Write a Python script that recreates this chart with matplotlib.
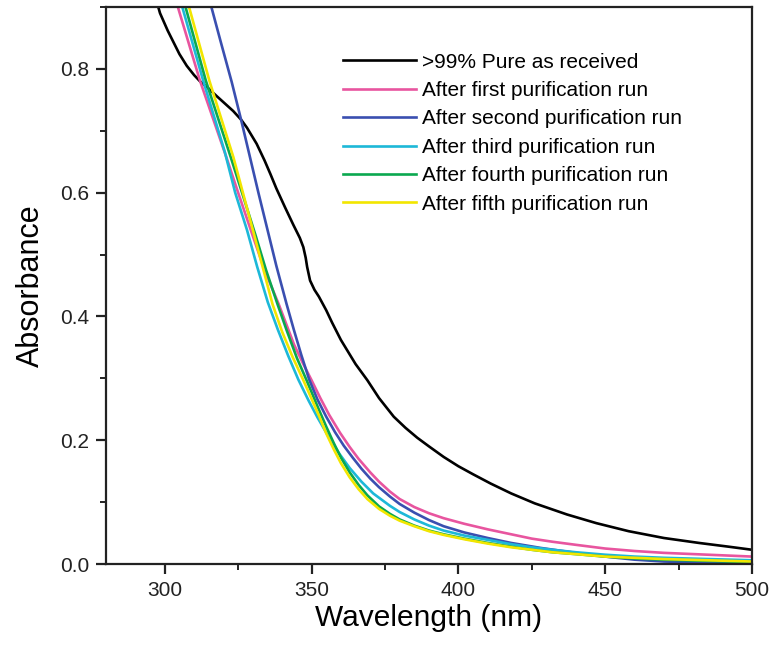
import numpy as np
import matplotlib.pyplot as plt
from matplotlib.ticker import MultipleLocator

plt.rcParams['font.family'] = ['Liberation Sans', 'DejaVu Sans']

# Absorption spectra (wavelength in nm, absorbance)
wl_raw = [296, 298.4, 301, 303, 305, 307.5, 310, 312, 315, 317.7, 320.5, 323.3, 326, 328, 331.3,
          334, 336, 338, 341, 343.8, 346, 347.2, 348, 348.5, 349.5, 351, 352.5, 355, 357, 360,
          365, 369, 373, 378, 382, 386, 390, 395, 400, 405, 411, 418, 426, 437, 447, 458,
          470, 482, 492, 500]
abs_raw = [0.93, 0.89, 0.862, 0.843, 0.824, 0.805, 0.79, 0.78, 0.768, 0.756, 0.744, 0.732, 0.718,
           0.705, 0.679, 0.652, 0.63, 0.607, 0.576, 0.548, 0.527, 0.512, 0.495, 0.48, 0.458,
           0.443, 0.432, 0.41, 0.39, 0.362, 0.323, 0.297, 0.268, 0.238, 0.22, 0.204, 0.19,
           0.173, 0.158, 0.145, 0.13, 0.114, 0.098, 0.08, 0.066, 0.053, 0.042, 0.034, 0.028, 0.023]

wl_run1 = [303.5, 304.6, 312, 320.8, 325, 330, 334, 338.8, 344, 347, 350, 353, 356, 359.7, 363,
           366, 370, 373, 376.7, 380, 385, 390, 395, 402, 410, 418, 425, 432, 440, 450, 460,
           470, 480, 490, 500]
abs_run1 = [0.92, 0.898, 0.781, 0.66, 0.60, 0.53, 0.475, 0.42, 0.355, 0.325, 0.297, 0.268, 0.241,
            0.212, 0.189, 0.170, 0.148, 0.133, 0.117, 0.105, 0.092, 0.082, 0.074, 0.065, 0.056,
            0.048, 0.041, 0.036, 0.031, 0.025, 0.021, 0.018, 0.016, 0.014, 0.012]

wl_run2 = [315.5, 316, 319, 322.8, 326, 329, 332, 335, 338, 341.5, 344, 346.5, 349.2, 352, 355,
           358, 361, 364, 367, 370, 373, 376.7, 380, 385, 390, 395, 402, 410, 418, 428, 440,
           450, 460, 470, 485, 500]
abs_run2 = [0.91, 0.898, 0.845, 0.779, 0.718, 0.658, 0.598, 0.54, 0.482, 0.42, 0.378, 0.338, 0.298,
            0.266, 0.238, 0.213, 0.191, 0.172, 0.154, 0.138, 0.124, 0.109, 0.097, 0.083, 0.071,
            0.061, 0.051, 0.042, 0.034, 0.026, 0.018, 0.012, 0.007, 0.004, 0.002, 0.001]

wl_run3 = [305, 306.1, 313.1, 320.5, 324, 328, 331.5, 335.1, 338.5, 342, 345.5, 349, 352, 356,
           359.5, 363, 367, 371, 376.7, 380, 385, 390, 395, 402, 410, 418, 425, 432, 440, 450,
           460, 470, 485, 500]
abs_run3 = [0.92, 0.898, 0.781, 0.665, 0.60, 0.54, 0.48, 0.423, 0.379, 0.337, 0.298, 0.264, 0.237,
            0.204, 0.178, 0.155, 0.133, 0.114, 0.094, 0.084, 0.072, 0.062, 0.054, 0.046, 0.039,
            0.032, 0.027, 0.023, 0.019, 0.015, 0.012, 0.010, 0.008, 0.006]

wl_run4 = [306.2, 307.2, 314, 322.5, 327, 331, 334.5, 338.4, 341.5, 345, 348.3, 352, 355, 357.6,
           360, 363, 366, 369, 373, 376.7, 380, 385, 390, 395, 402, 410, 418, 425, 432, 440,
           450, 460, 470, 485, 500]
abs_run4 = [0.92, 0.898, 0.781, 0.657, 0.59, 0.53, 0.475, 0.42, 0.378, 0.333, 0.297, 0.255, 0.222,
            0.195, 0.172, 0.148, 0.128, 0.111, 0.093, 0.081, 0.072, 0.062, 0.054, 0.048, 0.041,
            0.034, 0.028, 0.023, 0.019, 0.016, 0.012, 0.009, 0.007, 0.005, 0.003]

wl_run5 = [307.4, 308.4, 315.2, 323.4, 330, 336.7, 340, 343.5, 347.2, 350, 352.5, 355, 357.6, 360,
           363, 366, 369, 373, 376.7, 380, 385, 390, 395, 402, 410, 418, 425, 432, 440, 450,
           460, 470, 485, 500]
abs_run5 = [0.92, 0.898, 0.781, 0.657, 0.54, 0.42, 0.375, 0.335, 0.297, 0.267, 0.24, 0.211, 0.185,
            0.163, 0.140, 0.121, 0.105, 0.089, 0.078, 0.070, 0.061, 0.053, 0.047, 0.040, 0.033,
            0.027, 0.023, 0.019, 0.016, 0.012, 0.010, 0.008, 0.006, 0.004]

labels = [">99% Pure as received",
          "After first purification run",
          "After second purification run",
          "After third purification run",
          "After fourth purification run",
          "After fifth purification run"]
colors = ['#000000', '#E8559F', '#3A4FB0', '#1DB8D8', '#0AA84F', '#F2E600']

series = [(wl_raw, abs_raw), (wl_run1, abs_run1), (wl_run2, abs_run2),
          (wl_run3, abs_run3), (wl_run4, abs_run4), (wl_run5, abs_run5)]

fig = plt.figure(figsize=(7.74, 6.57), dpi=100)
ax  = fig.add_axes([106/774, 1 - 564/657, 646/774, 557/657])

for (x, y), lab, col in zip(series, labels, colors):
    ax.plot(x, y, color=col, linewidth=1.9, label=lab, solid_joinstyle='round')

ax.set_xlim(280, 500)
ax.set_ylim(0, 0.9)
ax.xaxis.set_major_locator(MultipleLocator(50))
ax.xaxis.set_minor_locator(MultipleLocator(25))
ax.yaxis.set_major_locator(MultipleLocator(0.2))
ax.yaxis.set_minor_locator(MultipleLocator(0.1))
ax.yaxis.set_major_formatter(plt.FuncFormatter(lambda v, p: f'{v:.1f}'))

for s in ax.spines.values():
    s.set_linewidth(1.6)
    s.set_color('#222222')
ax.tick_params(which='major', direction='out', length=7, width=1.6, labelsize=15, pad=5,
               colors='#222222')
ax.tick_params(which='minor', direction='out', length=4, width=1.4, colors='#222222')
ax.tick_params(top=False, right=False)

ax.set_xlabel("Wavelength (nm)", fontsize=21.5, labelpad=3)
ax.set_ylabel("Absorbance", fontsize=22, labelpad=10)

ax.legend(loc='upper left', bbox_to_anchor=(0.367, 0.918), frameon=False, fontsize=15,
          handlelength=3.5, handletextpad=0.3, labelspacing=0.45, borderpad=0, borderaxespad=0)

fig.savefig("out.png", dpi=100)
